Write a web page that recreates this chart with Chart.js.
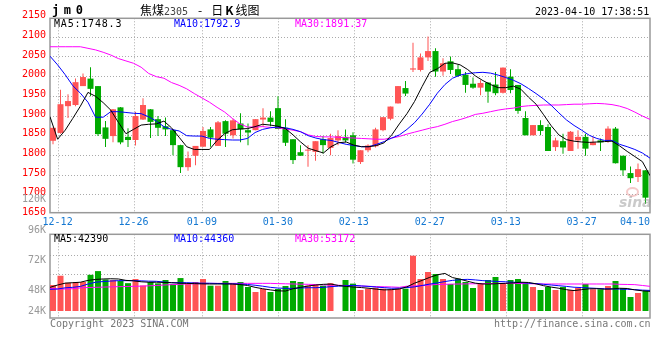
<!DOCTYPE html>
<html>
<head>
<meta charset="utf-8">
<script src="https://cdn.jsdelivr.net/npm/chart.js@4.4.1/dist/chart.umd.min.js"></script>
<style>
  html, body { margin:0; padding:0; background:#fff; }
  #wrap { position:relative; width:660px; height:360px; overflow:hidden; background:#fff; }
  #c { position:absolute; left:0; top:0; }
  .t { position:absolute; white-space:nowrap; font-family:'DejaVu Sans Mono', monospace; font-size:10px; line-height:10px; }
</style>
</head>
<body>
<div id="wrap">
  <canvas id="c" width="660" height="360"></canvas>
  <div class="t" style="left:52px;top:4px;font-size:12px;line-height:12px;font-weight:bold;letter-spacing:4.6px;">jm0</div>
  <div class="t" style="left:140px;top:4px;font-size:12px;line-height:12px;font-family:'Noto Sans CJK SC',sans-serif;">焦煤<span style="font-family:'DejaVu Sans Mono';font-size:10px;color:#444;">2305</span><span style="display:inline-block;margin:0 9px 0 10px;">-</span>日<b style="padding:0 2px;">K</b>线图</div>
  <div class="t" style="left:535px;top:6.5px;color:#000;">2023-04-10 17:38:51</div>
  <div class="t" id="pma5" style="left:54px;top:19px;color:#000;letter-spacing:0.8px;"></div>
  <div class="t" id="pma10" style="left:174px;top:19px;color:#0000ff;"></div>
  <div class="t" id="pma30" style="left:295px;top:19px;color:#ff00ff;"></div>
  <div class="t" id="vma5" style="left:54px;top:233.7px;color:#000;"></div>
  <div class="t" id="vma10" style="left:174px;top:233.7px;color:#0000ff;"></div>
  <div class="t" id="vma30" style="left:295px;top:233.7px;color:#ff00ff;"></div>
  <div class="t" style="left:50px;top:318.5px;color:#777;">Copyright 2023 SINA.COM</div>
  <div class="t" style="left:494px;top:318.5px;color:#777;">http://finance.sina.com.cn</div>
  <div style="position:absolute;left:626px;top:187px;width:9px;height:6px;border:2px solid rgba(235,150,150,0.5);border-radius:50%;"></div>
  <div class="t" style="left:619px;top:195px;font:italic bold 14px 'DejaVu Sans',sans-serif;line-height:14px;color:rgba(150,150,150,0.5);">sina</div>
</div>
<script>
// ---------------- data ----------------
const dateLabels = ['12-12','12-26','01-09','01-30','02-13','02-27','03-13','03-27','04-10'];
const dateSlots  = [1, 11, 20, 30, 40, 50, 60, 70, 79];

const open = [1837,1857,1925,1928,1976,1995,1976,1871,1849,1922,
 1847,1839,1891,1917,1892,1874,1864,1826,1770,1799,
 1822,1866,1824,1887,1851,1881,1864,1864,1891,1896,
 1920,1870,1841,1808,1812,1809,1841,1819,1838,1847,
 1851,1783,1813,1823,1864,1893,1932,1971,2018,2017,
 2049,2065,2013,2039,2019,2005,1982,1972,1985,1980,
 1959,2000,1979,1895,1851,1877,1872,1821,1836,1811,
 1838,1847,1826,1838,1836,1868,1799,1755,1745,1762];
const high = [1870,1967,1955,1995,2008,2024,1976,1887,1918,1923,
 1869,1911,1945,1918,1900,1896,1865,1827,1810,1824,
 1872,1872,1887,1889,1893,1907,1881,1892,1920,1912,
 1950,1892,1841,1826,1826,1836,1849,1855,1864,1866,
 1859,1813,1828,1870,1897,1924,1976,1989,2086,2059,
 2102,2072,2047,2051,2030,2012,1998,1991,1986,2012,
 2023,2019,1979,1912,1877,1889,1879,1845,1855,1862,
 1864,1855,1847,1843,1874,1872,1799,1772,1779,1762];
const low = [1828,1855,1895,1925,1976,1950,1849,1821,1833,1828,
 1821,1825,1890,1844,1849,1849,1800,1755,1761,1775,
 1822,1822,1824,1821,1843,1833,1826,1864,1872,1874,
 1867,1824,1778,1799,1771,1786,1805,1800,1826,1833,
 1779,1778,1808,1820,1861,1889,1932,1951,2012,2013,
 2040,2000,2002,2007,2000,1959,1969,1953,1934,1953,
 1957,1958,1906,1851,1851,1851,1811,1811,1804,1811,
 1817,1799,1826,1811,1832,1779,1748,1730,1732,1677];
const close = [1870,1930,1938,1986,1999,1969,1854,1842,1917,1833,
 1839,1900,1928,1885,1870,1866,1826,1770,1793,1824,
 1862,1845,1884,1855,1889,1866,1858,1892,1896,1885,
 1867,1832,1788,1799,1813,1836,1826,1844,1849,1838,
 1789,1813,1825,1866,1897,1924,1976,1957,2021,2049,
 2065,2013,2034,2017,2002,1979,1972,1984,1962,1958,
 2023,1966,1913,1851,1877,1862,1811,1838,1820,1860,
 1847,1817,1833,1833,1868,1780,1762,1742,1765,1692.5];

// volume in thousands (K)
const volumeK = [56,76,61,62.5,62.5,78,86,68,66.8,65,
 60,69,55,62.5,59.6,66.8,58,71,59.6,62.5,
 69,54.6,54.6,64.6,58.9,62.5,51.7,41,47.4,41,
 47.4,53.9,64.6,62.5,54.6,56,54.6,60,null,66.8,
 59,45.3,48.1,50.2,48.1,46.7,48.1,48.1,119.2,69,
 84,79.7,69,58.2,69.7,62.5,49.6,59.6,66.8,73.3,
 59.6,66.8,69,61,51.7,45.3,51.7,45.3,51.7,45.3,
 49.6,58.2,46.7,46.7,53.9,64.6,48.8,30.2,38.8,43.8];

const ma5 = [1898,1841,1864,1894,1925,1960,1950,1934,1915,1884,
 1855,1866,1877,1879,1880,1887,1870,1846,1822,1815,
 1815,1815,1838,1855,1865,1867,1868,1873,1879,1877,
 1874,1868,1852,1834,1818,1812,1806,1822,1832,1834,
 1826,1822,1822,1825,1832,1852,1880,1906,1937,1975,
 2011,2020,2034,2035,2030,2018,2002,1990,1980,1972,
 1972,1976,1968,1948,1930,1903,1875,1852,1840,1836,
 1834,1833,1834,1835,1836,1824,1810,1797,1784,1748.3];
const ma10 = [2052,2030,2005,1977,1958,1935,1897,1897,1911,1911,
 1909,1907,1906,1898,1887,1873,1866,1862,1850,1849,
 1849,1843,1841,1840,1839,1839,1843,1858,1866,1870,
 1872,1870,1866,1860,1850,1844,1840,1838,1833,1828,
 1825,1822,1822,1828,1835,1844,1852,1866,1883,1905,
 1930,1958,1980,1996,2004,2008,2010,2011,2009,2004,
 1998,1991,1982,1970,1957,1943,1927,1908,1890,1876,
 1864,1851,1843,1838,1838,1828,1822,1815,1806,1792.9];
const ma30 = [2076,2076,2076,2076,2076,2072,2068,2062,2055,2046,
 2040,2034,2024,2008,2000,1996,1985,1978,1969,1957,
 1946,1935,1922,1910,1894,1880,1872,1872,1873,1871,
 1870,1867,1864,1860,1852,1848,1847,1847,1846,1845,
 1844,1843,1842,1841,1841,1844,1848,1854,1859,1864,
 1869,1873,1879,1886,1891,1897,1904,1907,1911,1915,
 1918,1920,1924,1926,1927,1928,1928,1928,1929,1930,
 1930,1931,1932,1931,1929,1925,1919,1910,1900,1891.37];

const volMa5K = [51,56,60,61,62,66,68,69,69.5,69,
 66,65,63,62,62,61.5,61,60,59.5,59,
 58.5,58.2,58.2,58.2,58.2,57,55,51,48,45.5,
 43.5,43,48,51,54,56,57.5,58,55,53,
 51.5,50.5,49,47,45.5,46,47.5,52,60,66,
 72.5,78,81,72,68.5,64,60,58.2,58.2,59,
 59.6,60.5,62,61.5,58.5,54.5,51.5,49,46,44,
 46,47.8,48.1,47,47.5,49,48.5,45.5,43.5,42.39];
const volMa10K = [46.7,47.4,50,51,53,58,62,63.5,64.5,65.4,
 65.4,65.4,65,64.3,64,62.5,61,61,61,60.5,
 60,59.8,59.3,59,58.5,58.2,57.2,55.5,53.5,51,
 49.5,48.8,48.8,49.6,50.2,50.2,51,52.5,53.5,54.5,
 55.3,54,53,51.5,50.3,49,49.2,50.5,52,55,
 58,60.5,63.5,66,67.5,68.2,67,65.4,64.5,63.5,
 63,62,61.2,60,59,57.5,56,54.5,53,51.2,
 50.5,49.6,48.7,48,47.6,47.2,46.8,46,45,44.36];
const volMa30K = [48.8,47.4,47.4,48,49.8,50.6,51,51.5,52,52.4,
 52.8,53.2,53.6,54.2,55,56,56.8,57.5,58.2,58.6,
 59,59.5,59.6,59.6,59.6,59.6,59.6,59.6,59.6,59.6,
 59,58.6,58.2,57.8,57.5,57,56.3,55.8,55.4,55,
 54.4,53.9,53.2,52.5,52.2,51.8,51,53.5,54,54.6,
 56,57.2,57.6,58,58.2,58.5,58.7,58.9,59.2,59.5,
 59.6,59.6,59.2,58.9,58.4,58.2,58.2,58.2,58.2,58.2,
 58.2,58.2,58.2,58.2,58.2,57.5,57.2,56.8,55,53.172];

const priceTicks = [1650,1700,1750,1800,1850,1900,1950,2000,2050,2100,2150];
const priceGrid  = [1700,1750,1800,1850,1900,1950,2000,2050,2100];
const volTickLabels = ['24K','48K','72K','96K','120K'];
const volTickValsK  = [24,48,72,96,120];
const volGridValsK  = [77.6,119.2];

const priceMaText = ['MA5:1748.3','MA10:1792.9','MA30:1891.37'];
const volMaText   = ['MA5:42390','MA10:44360','MA30:53172'];

// ---------------- styles / layout constants ----------------
const RED = '#ff5555', GREEN = '#00aa00', GRID = '#aaaaaa', FRAME = '#999999', DATE_BLUE = '#1478d2';
const MONO = "'DejaVu Sans Mono', monospace";
const PRICE_MIN = 1386.7, PRICE_MAX = 2164.3;
const VOL_MIN = -15.086, VOL_MAX = 644.397;
const VLAB_MIN = 26.376, VLAB_MAX = 268.752, VLAB_FLOOR = 31.9;
const MAIN_TOP = 2148.3, MAIN_BOTTOM = 1654.3, VOL_TOP = 165.3;

document.getElementById('pma5').textContent = priceMaText[0];
document.getElementById('pma10').textContent = priceMaText[1];
document.getElementById('pma30').textContent = priceMaText[2];
document.getElementById('vma5').textContent = volMaText[0];
document.getElementById('vma10').textContent = volMaText[1];
document.getElementById('vma30').textContent = volMaText[2];

const idx = close.map((_, i) => i);
const candleColors = idx.map(i => close[i] >= open[i] ? RED : GREEN);
const wickData = idx.map(i => ({x: i, y: [low[i], high[i]]}));
const bodyData = idx.map(i => ({x: i, y: [Math.min(open[i], close[i]), Math.max(open[i], close[i])]}));
const volData  = idx.map(i => ({x: i, y: volumeK[i]}));
const series = arr => arr.map((v, j) => ({x: j, y: v}));

const panelFrames = {
  id: 'panelFrames',
  afterLayout(chart) {
    // the volume label axis shares the price axis' column (labels clip to the axis box)
    const s = chart.scales.yvl, L = chart.chartArea.left;
    s.left = 0; s.right = L; s.width = L;
  },
  beforeDatasetsDraw(chart) {
    const {ctx, chartArea: a, scales} = chart;
    const panels = [
      [scales.y.getPixelForValue(MAIN_TOP), scales.y.getPixelForValue(MAIN_BOTTOM)],
      [scales.yv.getPixelForValue(VOL_TOP), scales.yv.getPixelForValue(VOL_MIN)]
    ];
    ctx.save();
    ctx.strokeStyle = GRID; ctx.lineWidth = 1; ctx.setLineDash([1, 2]);
    dateSlots.slice(0, -1).forEach(s => {
      const x = Math.round(scales.xd.getPixelForValue(s)) + 0.5;
      panels.forEach(([t, b]) => { ctx.beginPath(); ctx.moveTo(x, t); ctx.lineTo(x, b); ctx.stroke(); });
    });
    ctx.setLineDash([]);
    ctx.strokeStyle = FRAME; ctx.lineWidth = 1.5;
    panels.forEach(([t, b]) => ctx.strokeRect(a.left, t, a.right - a.left, b - t));
    ctx.restore();
  }
};

const lineDs = (label, arr, color, yId) => ({
  type: 'line', label, data: series(arr), xAxisID: 'xd', yAxisID: yId,
  borderColor: color, borderWidth: 1, pointRadius: 0, tension: 0, fill: false, order: 0
});

new Chart(document.getElementById('c'), {
  type: 'bar',
  data: {
    datasets: [
      lineDs('MA5', ma5, '#000000', 'y'),
      lineDs('MA10', ma10, '#0000ff', 'y'),
      lineDs('MA30', ma30, '#ff00ff', 'y'),
      lineDs('VMA5', volMa5K, '#000000', 'yv'),
      lineDs('VMA10', volMa10K, '#0000ff', 'yv'),
      lineDs('VMA30', volMa30K, '#ff00ff', 'yv'),
      {type: 'bar', label: 'body', data: bodyData, xAxisID: 'x', yAxisID: 'y',
       backgroundColor: candleColors, barThickness: 6, minBarLength: 1, grouped: false, inflateAmount: 0, order: 5},
      {type: 'bar', label: 'wick', data: wickData, xAxisID: 'x', yAxisID: 'y',
       backgroundColor: candleColors, barThickness: 1, minBarLength: 1, grouped: false, inflateAmount: 0, order: 6},
      {type: 'bar', label: 'volume', data: volData, xAxisID: 'x', yAxisID: 'yv',
       backgroundColor: candleColors, barThickness: 6, grouped: false, inflateAmount: 0, order: 7}
    ]
  },
  options: {
    responsive: false, animation: false, devicePixelRatio: 1,
    layout: {padding: {left: 0, right: 10, top: 12, bottom: 42}},
    plugins: {legend: {display: false}, tooltip: {enabled: false}},
    scales: {
      x: {type: 'linear', min: -0.4, max: 79.6, offset: false, grid: {offset: false}, display: false},
      xd: {type: 'linear', axis: 'x', min: 0, max: 79, offset: false, position: {y: MAIN_BOTTOM},
        grid: {display: false, drawTicks: false, offset: false}, border: {display: false},
        afterBuildTicks: s => { s.ticks = [{value: 0}].concat(dateSlots.map(v => ({value: v}))); },
        ticks: {autoSkip: false, maxRotation: 0, minRotation: 0, align: 'inner', padding: 4,
          color: DATE_BLUE, font: {family: MONO, size: 10},
          callback: (v, i) => i === 0 ? '' : dateLabels[i - 1]}},
      y: {type: 'linear', position: 'left', weight: 10, min: PRICE_MIN, max: PRICE_MAX,
        afterFit: s => { s.width = 50; },
        afterBuildTicks: s => { s.ticks = priceTicks.map(v => ({value: v})); },
        grid: {drawTicks: false, lineWidth: 1,
          color: c => (c.tick && priceGrid.includes(c.tick.value)) ? GRID : 'rgba(0,0,0,0)'},
        border: {display: false, dash: [1, 2]},
        ticks: {autoSkip: false, padding: 4, labelOffset: -2, color: '#ff0000',
          font: {family: MONO, size: 10}, callback: v => String(v)}},
      yv: {type: 'linear', position: 'left', weight: 0, min: VOL_MIN, max: VOL_MAX,
        afterFit: s => { s.width = 0; },
        afterBuildTicks: s => { s.ticks = volGridValsK.map(v => ({value: v})); },
        grid: {drawTicks: false, color: GRID, lineWidth: 1},
        border: {display: false, dash: [1, 2]},
        ticks: {display: false}},
      yvl: {type: 'linear', position: 'left', weight: 1, min: VLAB_MIN, max: VLAB_MAX,
        afterFit: s => { s.width = 0; },
        afterBuildTicks: s => { s.ticks = volTickValsK.map(v => ({value: Math.max(v, VLAB_FLOOR)})); },
        grid: {display: false, drawTicks: false}, border: {display: false},
        ticks: {autoSkip: false, padding: 4, color: '#999999', font: {family: MONO, size: 10},
          callback: (v, i) => volTickLabels[i]}}
    }
  },
  plugins: [panelFrames]
});
</script>
</body>
</html>
